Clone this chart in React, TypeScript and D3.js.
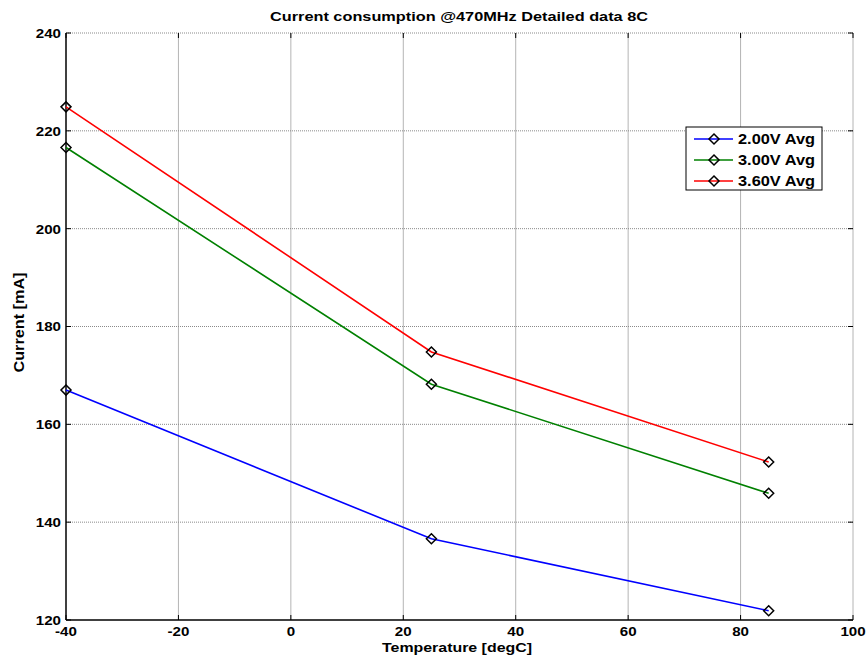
import React, { useEffect, useRef } from 'react';
import * as d3 from 'd3';

const temps = [-40, 25, 85];
const seriesNames = ['2.00V Avg', '3.00V Avg', '3.60V Avg'];
const seriesColors = ['#0000ff', '#008000', '#ff0000'];
const v200 = [167.0, 136.6, 121.9];
const v300 = [216.6, 168.2, 145.9];
const v360 = [224.9, 174.8, 152.3];
const xTicks = [-40, -20, 0, 20, 40, 60, 80, 100];
const yTicks = [120, 140, 160, 180, 200, 220, 240];

const W = 868;
const H = 660;
const FONT = 'Liberation Sans, Arial, sans-serif';

const App: React.FC = () => {
  const svgRef = useRef<SVGSVGElement>(null);

  useEffect(() => {
    if (!svgRef.current) return;
    const svg = d3.select(svgRef.current);
    svg.selectAll('*').remove();

    const margin = { top: 33, right: 15, bottom: 40, left: 66 };
    const x = d3.scaleLinear().domain([-40, 100]).range([margin.left, W - margin.right]);
    const y = d3.scaleLinear().domain([120, 240]).range([H - margin.bottom, margin.top]);
    const [x0, x1] = x.range();
    const [y0, y1] = y.range();

    svg.append('rect').attr('width', W).attr('height', H).attr('fill', '#fff');

    // grid
    const grid = svg.append('g');
    grid.selectAll('line.v')
      .data(xTicks.slice(1))
      .join('line')
      .attr('x1', d => x(d)).attr('x2', d => x(d))
      .attr('y1', y0).attr('y2', y1)
      .attr('stroke', '#b4b4b4')
      .attr('stroke-width', 1);
    grid.selectAll('line.h')
      .data(yTicks.slice(1))
      .join('line')
      .attr('x1', x0).attr('x2', x1)
      .attr('y1', d => y(d)).attr('y2', d => y(d))
      .attr('stroke', '#8a8a8a')
      .attr('stroke-width', 1)
      .attr('stroke-dasharray', '1,1');

    // ticks (inward)
    const tk = svg.append('g').attr('stroke', '#000').attr('stroke-width', 1);
    xTicks.forEach(t => {
      tk.append('line').attr('x1', x(t)).attr('x2', x(t)).attr('y1', y0).attr('y2', y0 - 5);
      tk.append('line').attr('x1', x(t)).attr('x2', x(t)).attr('y1', y1).attr('y2', y1 + 5);
    });
    yTicks.forEach(t => {
      tk.append('line').attr('x1', x0).attr('x2', x0 + 5).attr('y1', y(t)).attr('y2', y(t));
      tk.append('line').attr('x1', x1).attr('x2', x1 - 5).attr('y1', y(t)).attr('y2', y(t));
    });

    // axes lines
    svg.append('line').attr('x1', x0).attr('x2', x0).attr('y1', y0).attr('y2', y1)
      .attr('stroke', '#000').attr('stroke-width', 1.5);
    svg.append('line').attr('x1', x0).attr('x2', x1).attr('y1', y0).attr('y2', y0)
      .attr('stroke', '#000').attr('stroke-width', 1.5);

    // tick labels
    svg.append('g').selectAll('text')
      .data(xTicks)
      .join('text')
      .attr('x', d => x(d))
      .attr('y', y0 + 16)
      .attr('text-anchor', 'middle')
      .attr('font-family', FONT)
      .attr('font-weight', 'bold')
      .attr('font-size', 13.5)
      .attr('transform', d => `translate(${x(d)},0) scale(1.12,1) translate(${-x(d)},0)`)
      .text(d => d);
    svg.append('g').selectAll('text')
      .data(yTicks)
      .join('text')
      .attr('x', x0 - 5)
      .attr('y', d => y(d) + 5)
      .attr('text-anchor', 'end')
      .attr('font-family', FONT)
      .attr('font-weight', 'bold')
      .attr('font-size', 13.5)
      .attr('transform', `translate(${x0 - 5},0) scale(1.12,1) translate(${-(x0 - 5)},0)`)
      .text(d => d);

    // titles
    svg.append('text')
      .attr('x', 270).attr('y', 21)
      .attr('font-family', FONT).attr('font-weight', 'bold').attr('font-size', 13.5)
      .attr('textLength', 378).attr('lengthAdjust', 'spacingAndGlyphs')
      .text('Current consumption @470MHz Detailed data 8C');
    svg.append('text')
      .attr('x', 382).attr('y', 652)
      .attr('font-family', FONT).attr('font-weight', 'bold').attr('font-size', 13.5)
      .attr('textLength', 150).attr('lengthAdjust', 'spacingAndGlyphs')
      .text('Temperature [degC]');
    svg.append('text')
      .attr('transform', `translate(24,${(y0 + y1) / 2 - 4}) rotate(-90)`)
      .attr('x', -50)
      .attr('font-family', FONT).attr('font-weight', 'bold').attr('font-size', 14)
      .attr('textLength', 100).attr('lengthAdjust', 'spacingAndGlyphs')
      .text('Current [mA]');

    // series
    const allSeries = [v200, v300, v360];
    const line = d3.line<number>().x((_, i) => x(temps[i])).y(d => y(d));
    const diamond = (cx: number, cy: number) =>
      `M${cx},${cy - 5}L${cx + 5},${cy}L${cx},${cy + 5}L${cx - 5},${cy}Z`;

    allSeries.forEach((vals, si) => {
      svg.append('path')
        .datum(vals)
        .attr('d', line)
        .attr('fill', 'none')
        .attr('stroke', seriesColors[si])
        .attr('stroke-width', 1.6);
      svg.append('g').selectAll('path')
        .data(vals)
        .join('path')
        .attr('d', (d, i) => diamond(x(temps[i]), y(d)))
        .attr('fill', 'none')
        .attr('stroke', '#000')
        .attr('stroke-width', 1.5);
    });

    // legend
    const lg = svg.append('g').attr('transform', 'translate(686,127)');
    lg.append('rect').attr('width', 136).attr('height', 63)
      .attr('fill', '#fff').attr('stroke', '#000').attr('stroke-width', 1);
    seriesNames.forEach((name, i) => {
      const ly = 12 + i * 21;
      lg.append('line').attr('x1', 8).attr('x2', 47).attr('y1', ly).attr('y2', ly)
        .attr('stroke', seriesColors[i]).attr('stroke-width', 1.6);
      lg.append('path').attr('d', diamond(28, ly))
        .attr('fill', 'none').attr('stroke', '#000').attr('stroke-width', 1.5);
      lg.append('text').attr('x', 52).attr('y', ly + 5)
        .attr('font-family', FONT).attr('font-weight', 'bold').attr('font-size', 14.5)
        .attr('textLength', 77).attr('lengthAdjust', 'spacingAndGlyphs')
        .text(name);
    });
  }, []);

  return (
    <div style={{ position: 'absolute', left: 0, top: 0, width: W, height: H }}>
      <svg ref={svgRef} width={W} height={H} style={{ display: 'block' }} />
    </div>
  );
};

export default App;
